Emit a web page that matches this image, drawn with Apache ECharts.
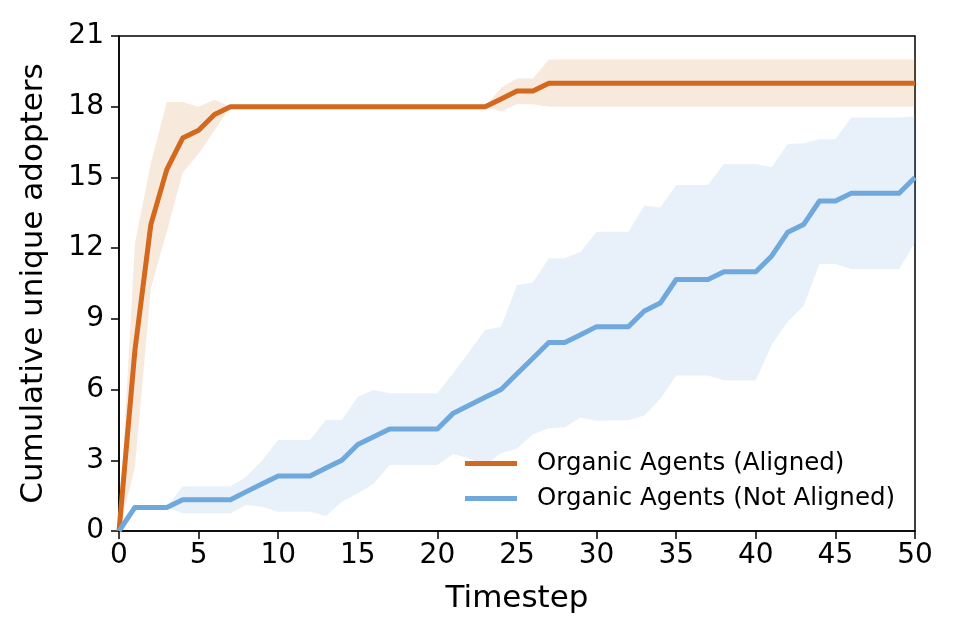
<!DOCTYPE html>
<html>
<head>
<meta charset="utf-8">
<script src="https://cdn.jsdelivr.net/npm/echarts@6/dist/echarts.min.js"></script>
<style>html,body{margin:0;padding:0;background:#fff;}#c{width:960px;height:640px;}</style>
</head>
<body>
<div id="c"></div>
<script>
const timesteps = Array.from({length: 51}, (_, i) => i);
const xTicks = [0, 5, 10, 15, 20, 25, 30, 35, 40, 45, 50];
const yTicks = [0, 3, 6, 9, 12, 15, 18, 21];

const alignedMean = [0, 7.67, 13, 15.33, 16.67, 17, 17.67, 18,
  18, 18, 18, 18, 18, 18, 18, 18, 18, 18, 18, 18, 18, 18, 18, 18,
  18.33, 18.67, 18.67,
  19, 19, 19, 19, 19, 19, 19, 19, 19, 19, 19, 19, 19, 19, 19, 19, 19, 19, 19, 19, 19, 19, 19, 19];
const alignedUpper = [0, 12.2, 15.6, 18.2, 18.2, 18.0, 18.3, 18.0,
  18, 18, 18, 18, 18, 18, 18, 18, 18, 18, 18, 18, 18, 18, 18, 18,
  18.8, 19.2, 19.2,
  20, 20, 20, 20, 20, 20, 20, 20, 20, 20, 20, 20, 20, 20, 20, 20, 20, 20, 20, 20, 20, 20, 20, 20];
const alignedLower = [0, 2.7, 10.3, 12.7, 15.2, 16.0, 17.0, 18.0,
  18, 18, 18, 18, 18, 18, 18, 18, 18, 18, 18, 18, 18, 18, 18, 18,
  17.8, 18.1, 18.1,
  18, 18, 18, 18, 18, 18, 18, 18, 18, 18, 18, 18, 18, 18, 18, 18, 18, 18, 18, 18, 18, 18, 18, 18];

const notAlignedMean = [0, 1, 1, 1, 1.33, 1.33, 1.33, 1.33, 1.67, 2, 2.33, 2.33, 2.33, 2.67, 3, 3.67, 4, 4.33, 4.33, 4.33, 4.33,
  5, 5.33, 5.67, 6, 6.67, 7.33, 8, 8, 8.33, 8.67, 8.67, 8.67, 9.33, 9.67, 10.67, 10.67, 10.67, 11, 11, 11,
  11.67, 12.67, 13, 14, 14, 14.33, 14.33, 14.33, 14.33, 15];
const notAlignedUpper = [0, 1, 1, 1, 1.9, 1.9, 1.9, 1.9, 2.3, 3.0, 3.86, 3.86, 3.86, 4.71, 4.71, 5.7, 5.98, 5.84, 5.84, 5.84, 5.84,
  6.7, 7.6, 8.53, 8.67, 10.44, 10.54, 11.57, 11.57, 11.85, 12.7, 12.7, 12.7, 13.8, 13.72, 14.68, 14.68, 14.68, 15.57, 15.57, 15.57,
  15.43, 16.42, 16.45, 16.62, 16.62, 17.54, 17.54, 17.54, 17.54, 17.6];
const notAlignedLower = [0, 1, 1, 1, 0.75, 0.75, 0.75, 0.75, 1.1, 1.03, 0.82, 0.82, 0.82, 0.64, 1.24, 1.6, 2.0, 2.8, 2.8, 2.8, 2.8,
  3.27, 3.08, 2.8, 3.3, 3.5, 4.1, 4.36, 4.4, 4.81, 4.68, 4.7, 4.7, 4.9, 5.6, 6.6, 6.6, 6.6, 6.4, 6.4, 6.4,
  7.9, 8.88, 9.55, 11.33, 11.33, 11.12, 11.12, 11.12, 11.12, 12.23];

const seriesNames = ['Organic Agents (Aligned)', 'Organic Agents (Not Aligned)'];
const FONT = 'DejaVu Sans';
const orange = '#D2691E';
const blue = '#6FA8DC';

const pairs = arr => timesteps.map((t, i) => [t, arr[i]]);

function band(name, lower, upper, color) {
  return {
    name: name, type: 'custom', silent: true, z: 1, clip: true,
    data: timesteps.map((t, i) => [t, lower[i], upper[i]]),
    encode: { x: 0, y: [1, 2] },
    renderItem: function (params, api) {
      if (params.dataIndex !== 0) return null;
      const pts = [];
      for (let i = 0; i < timesteps.length; i++) pts.push(api.coord([timesteps[i], upper[i]]));
      for (let i = timesteps.length - 1; i >= 0; i--) pts.push(api.coord([timesteps[i], lower[i]]));
      return { type: 'polygon', shape: { points: pts }, style: { fill: color, stroke: null } };
    }
  };
}

const chart = echarts.init(document.getElementById('c'), null, { renderer: 'canvas' });
chart.setOption({
  animation: false,
  backgroundColor: '#fff',
  textStyle: { fontFamily: FONT },
  grid: { left: 119, right: 45, top: 36, bottom: 109, show: true, borderColor: '#000', borderWidth: 1.5, backgroundColor: 'transparent' },
  legend: {
    data: [
      { name: seriesNames[0], icon: 'rect' },
      { name: seriesNames[1], icon: 'rect' }
    ],
    orient: 'vertical', left: 460, top: 446, itemWidth: 52, itemHeight: 5, itemGap: 10,
    textStyle: { fontFamily: FONT, fontSize: 24.5, color: '#000', padding: [0, 0, 0, 15] }
  },
  xAxis: {
    type: 'value', min: xTicks[0], max: xTicks[xTicks.length - 1], interval: 5,
    name: 'Timestep', nameLocation: 'middle', nameGap: 52,
    nameTextStyle: { fontFamily: FONT, fontSize: 31, color: '#000' },
    axisLine: { show: true, lineStyle: { color: '#000', width: 1.5 } },
    axisTick: { show: true, inside: false, length: 8, lineStyle: { color: '#000', width: 1.5 } },
    axisLabel: { fontFamily: FONT, fontSize: 28, color: '#000', margin: 11 },
    splitLine: { show: false }
  },
  yAxis: {
    type: 'value', min: yTicks[0], max: yTicks[yTicks.length - 1], interval: 3,
    name: 'Cumulative unique adopters', nameLocation: 'middle', nameGap: 70,
    nameTextStyle: { fontFamily: FONT, fontSize: 31, color: '#000' },
    axisLine: { show: true, lineStyle: { color: '#000', width: 1.5 } },
    axisTick: { show: true, inside: false, length: 8, lineStyle: { color: '#000', width: 1.5 } },
    axisLabel: { fontFamily: FONT, fontSize: 28, color: '#000', margin: 15 },
    splitLine: { show: false }
  },
  series: [
    band('aligned_band', alignedLower, alignedUpper, 'rgba(210,105,30,0.15)'),
    band('notaligned_band', notAlignedLower, notAlignedUpper, 'rgba(111,168,220,0.16)'),
    { name: seriesNames[0], type: 'line', data: pairs(alignedMean), symbol: 'none', z: 3,
      itemStyle: { color: orange }, lineStyle: { color: orange, width: 5, join: 'round' } },
    { name: seriesNames[1], type: 'line', data: pairs(notAlignedMean), symbol: 'none', z: 3,
      itemStyle: { color: blue }, lineStyle: { color: blue, width: 5, join: 'round' } }
  ]
});
</script>
</body>
</html>
